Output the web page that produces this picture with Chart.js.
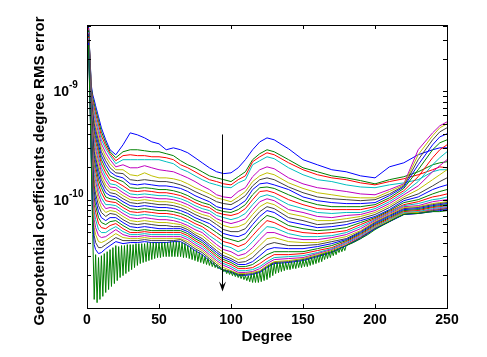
<!DOCTYPE html>
<html><head><meta charset="utf-8">
<script src="https://cdn.jsdelivr.net/npm/chart.js@4.4.1/dist/chart.umd.min.js"></script>
<style>html,body{margin:0;padding:0;background:#fff;}canvas{display:block;}</style>
</head><body>
<div style="width:487px;height:357px;position:relative"><canvas id="c" width="487" height="357"></canvas></div>
<script>
// Values are in units of 1e-10 (so 1 = 10^-10, 10 = 10^-9)
const degrees = [1,2,3,4,5,6,8,10,13,16,20,25,30,35,40,45,50,55,60,65,70,75,80,85,90,95,100,105,110,115,120,125,130,140,150,160,170,180,190,200,210,220,230,240,245,250];
const rms01 = [41.0,21.7,11.3,9.28,8.35,7.35,5.82,4.60,3.57,2.89,2.60,3.21,4.14,3.97,3.72,3.42,3.28,2.89,3.01,2.89,2.71,2.44,2.19,1.97,1.81,1.74,1.77,1.97,2.34,2.89,3.42,3.72,3.57,2.95,2.34,2.10,1.89,1.81,1.66,1.59,2.01,2.19,2.60,2.89,3.01,3.01];
const rms02 = [41.0,21.2,10.8,8.71,7.67,6.75,5.35,4.24,3.35,2.77,2.44,2.77,2.89,2.89,2.83,2.77,2.77,2.66,2.55,2.29,2.10,1.97,1.81,1.66,1.59,1.53,1.47,1.63,1.81,2.34,2.66,2.89,2.77,2.34,1.97,1.81,1.66,1.59,1.50,1.40,1.53,1.63,1.81,2.10,2.19,2.24];
const rms03 = [40.1,20.8,10.3,8.17,7.05,6.20,4.91,3.89,3.14,2.66,2.29,2.55,2.60,2.55,2.55,2.49,2.49,2.44,2.34,2.10,1.97,1.81,1.66,1.53,1.47,1.40,1.37,1.53,1.66,2.24,2.49,2.71,2.60,2.19,1.89,1.70,1.59,1.53,1.43,1.37,1.47,1.56,1.70,1.89,2.01,1.97];
const rms04 = [40.1,20.4,9.87,7.67,6.47,5.70,4.51,3.57,2.95,2.55,2.15,2.34,2.34,2.34,2.34,2.34,2.34,2.24,2.15,1.93,1.81,1.66,1.53,1.43,1.37,1.31,1.29,1.43,1.53,2.10,2.29,2.49,2.39,1.97,1.70,1.53,1.47,1.37,1.31,1.29,1.37,1.43,1.53,1.81,1.89,1.89];
const rms05 = [40.1,19.9,9.48,7.19,5.94,5.23,4.14,3.28,2.71,2.34,2.01,2.10,1.97,1.97,2.06,1.97,1.89,1.85,1.81,1.70,1.59,1.47,1.34,1.24,1.11,1.06,1.04,1.19,1.29,1.63,1.89,2.01,1.93,1.59,1.40,1.29,1.24,1.19,1.13,1.11,1.24,1.40,2.89,4.14,4.81,5.23];
const rms06 = [39.3,19.5,9.09,6.75,5.46,4.81,3.80,3.02,2.49,2.15,1.89,1.89,1.70,1.66,1.77,1.66,1.59,1.59,1.56,1.50,1.40,1.29,1.21,1.13,1.04,1.00,0.958,1.06,1.19,1.47,1.66,1.77,1.70,1.43,1.27,1.16,1.11,1.06,1.04,1.04,1.19,1.37,2.60,3.89,4.61,5.02];
const rms07 = [39.3,19.1,8.72,6.34,5.02,4.42,3.49,2.77,2.29,1.97,1.77,1.74,1.53,1.50,1.53,1.50,1.47,1.47,1.43,1.37,1.29,1.19,1.11,1.04,0.958,0.92,0.90,0.979,1.09,1.34,1.53,1.59,1.53,1.31,1.16,1.06,1.02,1.00,0.979,1.00,1.13,1.34,2.34,3.57,4.23,4.61];
const rms08 = [39.3,18.7,8.35,5.94,4.61,4.06,3.21,2.55,2.10,1.81,1.66,1.59,1.40,1.37,1.40,1.37,1.34,1.34,1.31,1.27,1.19,1.09,1.02,0.958,0.862,0.827,0.81,0.881,0.979,1.24,1.40,1.43,1.37,1.24,1.06,0.979,0.94,0.92,0.92,0.94,1.09,1.31,2.10,3.21,3.80,4.06];
const rms09 = [38.5,18.3,8.0,5.58,4.23,3.73,2.95,2.34,1.93,1.66,1.56,1.47,1.29,1.27,1.29,1.27,1.24,1.24,1.21,1.16,1.09,1.00,0.94,0.90,0.81,0.776,0.762,0.81,0.90,1.11,1.29,1.31,1.27,1.11,0.979,0.90,0.862,0.862,0.862,0.90,1.04,1.27,1.89,2.89,3.35,3.57];
const rms10 = [38.5,17.9,7.67,5.23,3.89,3.42,2.71,2.15,1.77,1.53,1.47,1.34,1.21,1.19,1.21,1.19,1.16,1.16,1.13,1.09,1.02,0.94,0.881,0.846,0.762,0.73,0.715,0.746,0.827,1.00,1.19,1.21,1.16,1.00,0.90,0.827,0.81,0.81,0.81,0.862,1.00,1.21,1.63,2.44,2.89,3.21];
const rms11 = [37.7,17.5,7.35,4.91,3.57,3.14,2.49,1.97,1.63,1.40,1.37,1.24,1.13,1.11,1.13,1.11,1.09,1.09,1.06,1.02,0.958,0.881,0.827,0.793,0.715,0.683,0.654,0.683,0.746,0.90,1.06,1.11,1.06,0.90,0.827,0.762,0.746,0.762,0.762,0.827,0.958,1.16,1.47,2.10,2.44,2.77];
const rms12 = [37.7,17.1,7.05,4.61,3.28,2.89,2.29,1.81,1.50,1.31,1.29,1.16,1.06,1.04,1.06,1.04,1.02,1.02,1.00,0.958,0.90,0.827,0.776,0.746,0.668,0.627,0.602,0.627,0.668,0.81,0.958,1.02,0.979,0.81,0.762,0.70,0.683,0.715,0.73,0.793,0.92,1.11,1.34,1.81,2.06,2.34];
const rms13 = [36.9,16.8,6.75,4.33,3.02,2.66,2.10,1.66,1.37,1.24,1.21,1.09,1.00,0.979,1.00,0.979,0.958,0.958,0.94,0.90,0.846,0.776,0.73,0.70,0.627,0.577,0.552,0.564,0.602,0.73,0.862,0.94,0.90,0.746,0.70,0.641,0.641,0.668,0.70,0.762,0.881,1.06,1.24,1.53,1.70,1.89];
const rms14 = [36.9,16.5,6.47,4.06,2.77,2.44,1.89,1.53,1.27,1.16,1.13,1.02,0.94,0.92,0.94,0.92,0.90,0.90,0.881,0.846,0.793,0.73,0.683,0.654,0.589,0.529,0.507,0.507,0.54,0.654,0.776,0.862,0.827,0.683,0.641,0.589,0.602,0.627,0.668,0.73,0.846,1.02,1.13,1.34,1.47,1.59];
const rms15 = [36.1,15.8,6.20,3.73,2.55,2.24,1.70,1.40,1.16,1.09,1.06,0.958,0.881,0.862,0.881,0.862,0.846,0.846,0.827,0.793,0.746,0.683,0.641,0.602,0.54,0.486,0.466,0.456,0.486,0.589,0.70,0.793,0.762,0.627,0.589,0.552,0.564,0.589,0.641,0.70,0.81,0.979,1.06,1.24,1.31,1.37];
const rms16 = [36.1,15.5,5.94,3.42,2.34,2.01,1.53,1.29,1.06,1.02,1.00,0.90,0.827,0.81,0.827,0.81,0.793,0.793,0.776,0.746,0.70,0.641,0.602,0.552,0.497,0.447,0.428,0.41,0.437,0.529,0.627,0.715,0.683,0.577,0.54,0.518,0.529,0.552,0.615,0.683,0.793,0.94,1.00,1.13,1.19,1.24];
const rms17 = [35.3,15.1,5.70,3.14,2.10,1.81,1.37,1.16,0.979,0.958,0.94,0.846,0.776,0.762,0.776,0.762,0.746,0.746,0.73,0.70,0.654,0.602,0.564,0.507,0.456,0.41,0.393,0.369,0.393,0.466,0.552,0.641,0.615,0.529,0.497,0.486,0.497,0.518,0.589,0.668,0.776,0.90,0.958,1.06,1.09,1.13];
const rms18 = [35.3,14.5,5.35,2.89,1.89,1.63,1.24,1.04,0.90,0.90,0.881,0.793,0.73,0.715,0.73,0.715,0.70,0.70,0.683,0.654,0.615,0.564,0.529,0.466,0.419,0.377,0.361,0.331,0.353,0.41,0.486,0.564,0.552,0.486,0.456,0.456,0.466,0.497,0.564,0.654,0.762,0.881,0.92,1.00,1.02,1.06];
const rms19 = [34.7,14.2,5.02,2.66,1.70,1.47,1.11,0.94,0.827,0.846,0.827,0.746,0.683,0.668,0.683,0.668,0.654,0.654,0.641,0.615,0.577,0.529,0.497,0.437,0.385,0.346,0.331,0.304,0.318,0.361,0.428,0.497,0.497,0.447,0.428,0.428,0.447,0.476,0.54,0.641,0.746,0.862,0.881,0.958,0.979,1.00];
const rms20 = [33.9,13.6,4.70,2.44,1.53,1.29,1.00,0.846,0.762,0.793,0.776,0.70,0.641,0.627,0.641,0.627,0.615,0.615,0.602,0.589,0.552,0.497,0.466,0.41,0.361,0.325,0.304,0.280,0.292,0.325,0.377,0.437,0.447,0.41,0.402,0.402,0.428,0.456,0.518,0.627,0.73,0.846,0.862,0.92,0.94,0.958];
const rms21 = [33.9,13.4,4.42,2.19,1.34,1.13,0.881,0.762,0.70,0.746,0.73,0.654,0.602,0.589,0.602,0.589,0.577,0.577,0.564,0.564,0.529,0.476,0.437,0.385,0.339,0.304,0.286,0.263,0.268,0.292,0.339,0.385,0.402,0.377,0.377,0.385,0.41,0.437,0.507,0.615,0.715,0.827,0.846,0.90,0.92,0.94];
const rms22 = [33.2,12.8,4.14,1.97,1.19,1.00,0.776,0.683,0.641,0.683,0.683,0.615,0.564,0.552,0.564,0.552,0.54,0.54,0.54,0.54,0.507,0.456,0.419,0.369,0.325,0.292,0.274,0.252,0.252,0.268,0.304,0.346,0.361,0.353,0.353,0.369,0.393,0.428,0.497,0.602,0.70,0.81,0.827,0.881,0.90,0.92];
const rms23 = [32.5,12.3,3.89,1.77,1.04,0.881,0.683,0.615,0.589,0.627,0.641,0.577,0.529,0.518,0.529,0.518,0.518,0.518,0.518,0.518,0.486,0.437,0.402,0.353,0.311,0.280,0.263,0.241,0.241,0.252,0.280,0.311,0.331,0.331,0.331,0.353,0.377,0.419,0.486,0.589,0.683,0.793,0.81,0.862,0.881,0.90];
const rms24 = [31.8,11.7,3.57,1.53,0.90,0.762,0.602,0.552,0.54,0.577,0.602,0.54,0.497,0.497,0.507,0.497,0.497,0.497,0.497,0.497,0.466,0.419,0.385,0.339,0.298,0.268,0.252,0.231,0.231,0.236,0.257,0.286,0.311,0.311,0.318,0.339,0.361,0.41,0.476,0.577,0.668,0.776,0.793,0.846,0.862,0.881];
const rms25 = [31.1,11.3,3.28,1.31,0.776,0.654,0.529,0.497,0.497,0.529,0.564,0.507,0.476,0.476,0.486,0.476,0.476,0.476,0.476,0.476,0.447,0.402,0.369,0.325,0.286,0.257,0.241,0.221,0.221,0.226,0.241,0.268,0.292,0.298,0.304,0.325,0.353,0.402,0.466,0.564,0.654,0.762,0.776,0.827,0.846,0.862];
const rms26 = [30.4,10.8,3.02,1.11,0.654,0.552,0.466,0.447,0.456,0.486,0.529,0.476,0.456,0.456,0.466,0.456,0.456,0.456,0.456,0.456,0.428,0.385,0.353,0.311,0.274,0.247,0.231,0.213,0.213,0.217,0.231,0.257,0.280,0.286,0.292,0.318,0.346,0.393,0.456,0.552,0.641,0.746,0.762,0.81,0.827,0.846];
const rms27 = [29.8,10.3,2.77,0.90,0.552,0.476,0.41,0.402,0.419,0.447,0.486,0.447,0.437,0.437,0.447,0.437,0.437,0.437,0.437,0.437,0.41,0.369,0.339,0.298,0.263,0.236,0.221,0.208,0.208,0.213,0.221,0.247,0.268,0.274,0.286,0.311,0.339,0.385,0.447,0.552,0.641,0.746,0.762,0.793,0.81,0.827];
const rms28 = [29.2,9.69,2.55,0.73,0.466,0.402,0.361,0.361,0.385,0.41,0.447,0.419,0.419,0.419,0.428,0.419,0.419,0.419,0.419,0.428,0.393,0.353,0.325,0.286,0.252,0.226,0.217,0.204,0.204,0.208,0.217,0.241,0.263,0.268,0.280,0.304,0.331,0.377,0.447,0.54,0.627,0.73,0.746,0.793,0.81,0.827];
const rms29 = [28.0,9.09,2.34,0.589,0.385,0.346,0.318,0.325,0.353,0.377,0.41,0.393,0.402,0.402,0.41,0.402,0.402,0.402,0.41,0.41,0.377,0.339,0.311,0.274,0.241,0.221,0.213,0.20,0.20,0.204,0.213,0.236,0.257,0.263,0.274,0.298,0.325,0.377,0.437,0.54,0.627,0.73,0.746,0.776,0.793,0.81];
// the lowest (last) curve is sampled at every degree
const fineDegrees = [1,2,3,4,5,6,7,8,9,10,11,12,13,14,15,16,17,18,19,20,21,22,23,24,25,26,27,28,29,30,31,32,33,34,35,36,37,38,39,40,41,42,43,44,45,46,47,48,49,50,51,52,53,54,55,56,57,58,59,60,61,62,63,64,65,66,67,68,69,70,71,72,73,74,75,76,77,78,79,80,81,82,83,84,85,86,87,88,89,90,91,92,93,94,95,96,97,98,99,100,101,102,103,104,105,106,107,108,109,110,111,112,113,114,115,116,117,118,119,120,121,122,123,124,125,126,127,128,129,130,131,132,133,134,135,136,137,138,139,140,141,142,143,144,145,146,147,148,149,150,151,152,153,154,155,156,157,158,159,160,161,162,163,164,165,166,167,168,169,170,171,172,173,174,175,176,177,178,179,180,185,190,195,200,205,210,215,220,225,230,235,240,245,250];
const rms30 = [26.8,8.35,2.10,0.476,0.120,0.311,0.112,0.292,0.120,0.304,
0.128,0.318,0.139,0.331,0.148,0.346,0.158,0.361,0.168,0.377,
0.179,0.369,0.191,0.377,0.199,0.377,0.208,0.385,0.217,0.385,
0.226,0.385,0.236,0.393,0.247,0.393,0.257,0.393,0.263,0.393,
0.268,0.402,0.274,0.402,0.280,0.402,0.286,0.402,0.292,0.402,
0.292,0.402,0.298,0.402,0.298,0.402,0.298,0.410,0.298,0.410,
0.298,0.410,0.298,0.410,0.298,0.402,0.292,0.393,0.292,0.377,
0.286,0.361,0.280,0.346,0.274,0.339,0.268,0.325,0.263,0.311,
0.257,0.298,0.252,0.286,0.247,0.274,0.241,0.263,0.236,0.252,
0.231,0.241,0.226,0.231,0.217,0.226,0.208,0.221,0.204,0.217,
0.199,0.212,0.195,0.208,0.191,0.204,0.187,0.204,0.183,0.199,
0.179,0.199,0.175,0.204,0.172,0.208,0.172,0.212,0.172,0.217,
0.175,0.226,0.179,0.236,0.183,0.247,0.191,0.257,0.199,0.257,
0.208,0.263,0.212,0.263,0.217,0.263,0.221,0.263,0.226,0.263,
0.226,0.268,0.231,0.268,0.231,0.274,0.236,0.274,0.236,0.280,
0.241,0.280,0.241,0.286,0.247,0.292,0.252,0.298,0.257,0.304,
0.263,0.311,0.268,0.318,0.280,0.325,0.286,0.331,0.292,0.339,
0.304,0.346,0.311,0.353,0.325,0.361,0.331,0.369,0.339,0.377,
0.402,0.437,0.476,0.529,0.577,0.627,0.683,0.73,0.746,0.746,0.762,0.776,0.776,0.793];

const coarseSeries = [rms01,rms02,rms03,rms04,rms05,rms06,rms07,rms08,rms09,rms10,rms11,rms12,rms13,rms14,rms15,rms16,rms17,rms18,rms19,rms20,rms21,rms22,rms23,rms24,rms25,rms26,rms27,rms28,rms29];
const lineColors = ['#0000FF','#008000','#FF0000','#00BFBF','#BF00BF','#BFBF00','#404040'];
const xTickValues = [0,50,100,150,200,250];
const yTickValues = [0.1,0.2,0.3,0.4,0.5,0.6,0.7,0.8,0.9,1,2,3,4,5,6,7,8,9,10,20,30,40];
const yDecadeLabels = [{value:1, base:'10', exp:'-10'},{value:10, base:'10', exp:'-9'}];
const xTitle = 'Degree';
const yTitle = 'Geopotential coefficients degree RMS error';
const arrowDegree = 94, arrowFrom = 4.0, arrowTo = 0.142;

const allSeries = coarseSeries.map(v => ({xs: degrees, ys: v}));
allSeries.push({xs: fineDegrees, ys: rms30});
const N = allSeries.length;
const datasets = allSeries.map((s, i) => ({
  data: s.xs.map((d, k) => ({x: d, y: s.ys[k]})),
  borderColor: lineColors[i % 7],
  borderWidth: 1,
  pointRadius: 0,
  fill: false,
  tension: 0,
  order: N - 1 - i
}));

const FONT = '"Liberation Sans", Arial, sans-serif';
const framePlugin = {
  id: 'frame',
  afterDatasetsDraw(chart) {
    const ctx = chart.ctx, a = chart.chartArea;
    const xs = chart.scales.x, ys = chart.scales.y;
    const L = Math.round(a.left), R = Math.round(a.right), T = Math.round(a.top), B = Math.round(a.bottom);
    ctx.save();
    // arrow
    const ax = Math.round(xs.getPixelForValue(arrowDegree)) + 0.5;
    const ay0 = ys.getPixelForValue(arrowFrom), ay1 = ys.getPixelForValue(arrowTo);
    ctx.strokeStyle = '#000'; ctx.fillStyle = '#000'; ctx.lineWidth = 1;
    ctx.beginPath(); ctx.moveTo(ax, ay0); ctx.lineTo(ax, ay1 - 5); ctx.stroke();
    ctx.beginPath(); ctx.moveTo(ax, ay1); ctx.lineTo(ax - 3.5, ay1 - 10); ctx.lineTo(ax, ay1 - 6); ctx.lineTo(ax + 3.5, ay1 - 10); ctx.closePath(); ctx.fill();
    // box
    ctx.strokeRect(L + 0.5, T + 0.5, R - L, B - T);
    // ticks
    ctx.beginPath();
    xTickValues.forEach(v => {
      const px = Math.round(xs.getPixelForValue(v)) + 0.5;
      ctx.moveTo(px, B); ctx.lineTo(px, B - 4);
      ctx.moveTo(px, T); ctx.lineTo(px, T + 4);
    });
    yTickValues.forEach(v => {
      const py = Math.round(ys.getPixelForValue(v)) + 0.5;
      ctx.moveTo(L, py); ctx.lineTo(L + 4, py);
      ctx.moveTo(R, py); ctx.lineTo(R - 4, py);
    });
    ctx.stroke();
    // x tick labels
    ctx.fillStyle = '#000';
    ctx.font = 'bold 14px ' + FONT;
    ctx.textAlign = 'center'; ctx.textBaseline = 'alphabetic';
    xTickValues.forEach(v => ctx.fillText(String(v), xs.getPixelForValue(v), B + 16));
    // y decade labels
    yDecadeLabels.forEach(l => {
      const py = ys.getPixelForValue(l.value);
      ctx.font = 'bold 14px ' + FONT; ctx.textAlign = 'right';
      ctx.fillText(l.base, 69, py + 5);
      ctx.font = 'bold 10px ' + FONT; ctx.textAlign = 'left';
      ctx.fillText(l.exp, 69, py - 3);
    });
    // axis titles
    ctx.font = 'bold 15px ' + FONT; ctx.textAlign = 'center';
    ctx.fillText(xTitle, (L + R) / 2, B + 33);
    ctx.translate(44, 171); ctx.rotate(-Math.PI / 2);
    ctx.fillText(yTitle, 0, 0);
    ctx.restore();
  }
};

new Chart(document.getElementById('c').getContext('2d'), {
  type: 'line',
  data: {datasets},
  options: {
    responsive: false, animation: false, devicePixelRatio: 1, events: [],
    layout: {padding: {left: 87, right: 40, top: 25, bottom: 49}},
    plugins: {legend: {display: false}, tooltip: {enabled: false}, title: {display: false}},
    scales: {
      x: {type: 'linear', min: 0, max: 250, display: false},
      y: {type: 'logarithmic', min: 0.1, max: 41, display: false}
    }
  },
  plugins: [framePlugin]
});
</script>
</body></html>
